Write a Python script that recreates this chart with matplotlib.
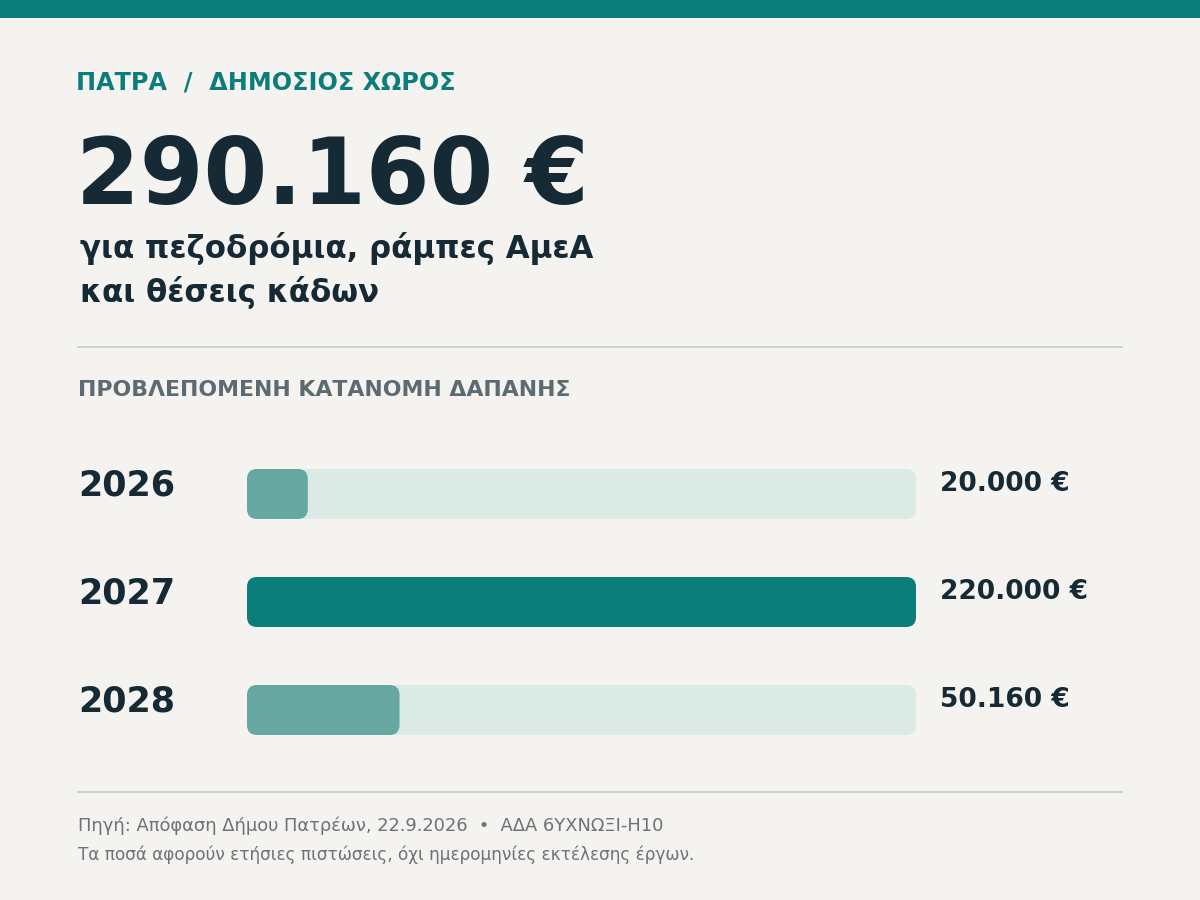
import matplotlib
matplotlib.use("Agg")
import matplotlib.pyplot as plt
from matplotlib.patches import FancyBboxPatch, Rectangle
from matplotlib.lines import Line2D

# data
years = ["2026", "2027", "2028"]
amounts = [20000, 220000, 50160]
amount_labels = ["20.000 €", "220.000 €", "50.160 €"]
total_label = "290.160 €"

# colours
BG = "#f4f3ef"
TEAL = "#0b7d7b"
TEAL_LIGHT = "#67a7a1"
TRACK = "#dceae6"
DARK = "#152a35"
GREY = "#5c6b72"
FOOT = "#6b7378"
RULE = "#c9cfcb"

W, H = 1200, 900
plt.rcParams["font.family"] = ["DejaVu Sans"]

fig = plt.figure(figsize=(W / 100, H / 100), dpi=100, facecolor=BG)


def fx(px):
    return px / W


def fy(py):
    return 1 - py / H


def txt(x, y, s, **kw):
    fig.text(fx(x), fy(y), s, va="baseline", ha="left", **kw)


# top band
fig.patches.append(Rectangle((0, fy(18)), 1, 18 / H, transform=fig.transFigure,
                             facecolor=TEAL, edgecolor="none"))

# header
txt(76, 89, "ΠΑΤΡΑ  /  ΔΗΜΟΣΙΟΣ ΧΩΡΟΣ", fontsize=17.2, fontweight="bold", color=TEAL)
txt(76, 204, total_label, fontsize=66, fontweight="bold", color=DARK)
txt(80, 258, "για πεζοδρόμια, ράμπες ΑμεΑ", fontsize=22.2, fontweight="bold", color=DARK)
txt(80, 302, "και θέσεις κάδων", fontsize=22.2, fontweight="bold", color=DARK)

for yy in (347, 792):
    fig.lines.append(Line2D([fx(78), fx(1122)], [fy(yy), fy(yy)], transform=fig.transFigure,
                            color=RULE, linewidth=1.3))

txt(78, 396, "ΠΡΟΒΛΕΠΟΜΕΝΗ ΚΑΤΑΝΟΜΗ ΔΑΠΑΝΗΣ", fontsize=15.8, fontweight="bold", color=GREY)

# bars axes: x 247..916 px, rows every 108 px centred at 494
row = 108
bar_h = 50 / row
ax_left, ax_right = 247, 916
ax_top = 494 - row / 2
ax_bot = ax_top + row * len(years)
ax = fig.add_axes([fx(ax_left), fy(ax_bot), (ax_right - ax_left) / W, (ax_bot - ax_top) / H])
ax.set_facecolor("none")
vmax = max(amounts)
ax.set_xlim(0, vmax)
ax.set_ylim(len(years) - 0.5, -0.5)
ax.axis("off")

px_x = vmax / (ax_right - ax_left)
px_y = 1 / row
radius = 10 * px_x
aspect = px_y / px_x

for i, (yr, v, lab) in enumerate(zip(years, amounts, amount_labels)):
    track = FancyBboxPatch((0, i - bar_h / 2), vmax, bar_h,
                           boxstyle=f"round,pad=0,rounding_size={radius}",
                           mutation_aspect=aspect, facecolor=TRACK, edgecolor="none")
    ax.add_patch(track)
    col = TEAL if v == vmax else TEAL_LIGHT
    bar = FancyBboxPatch((0, i - bar_h / 2), v, bar_h,
                         boxstyle=f"round,pad=0,rounding_size={radius}",
                         mutation_aspect=aspect, facecolor=col, edgecolor="none")
    ax.add_patch(bar)
    txt(78, 496 + i * row, yr, fontsize=25.2, fontweight="bold", color=DARK)
    txt(940, 491 + i * row, lab, fontsize=19.1, fontweight="bold", color=DARK)

# footer
txt(78, 831, "Πηγή: Απόφαση Δήμου Πατρέων, 22.9.2026  •  ΑΔΑ 6ΥΧΝΩΞΙ-Η10", fontsize=12.9, color=FOOT)
txt(78, 860, "Τα ποσά αφορούν ετήσιες πιστώσεις, όχι ημερομηνίες εκτέλεσης έργων.", fontsize=12.2, color=FOOT)

fig.savefig("out.png", dpi=100, facecolor=BG)
